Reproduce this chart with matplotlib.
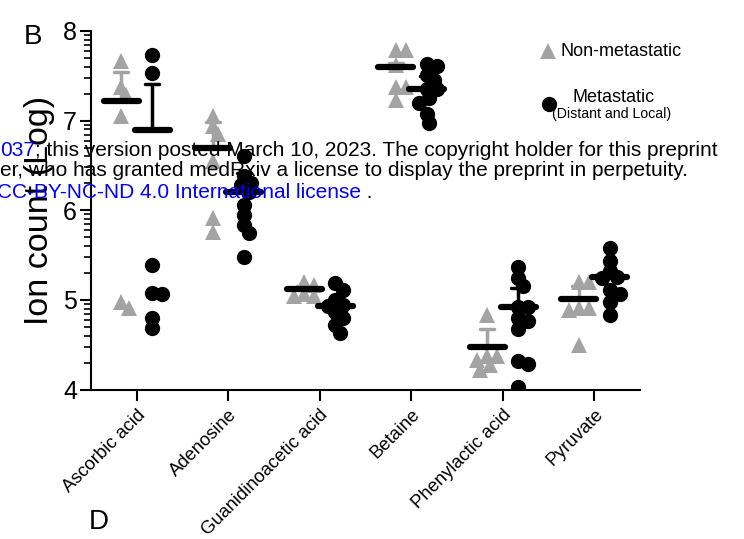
import numpy as np
import matplotlib
matplotlib.use("Agg")
import matplotlib.pyplot as plt
from matplotlib.lines import Line2D

plt.rcParams['font.family'] = ['Liberation Sans', 'DejaVu Sans']

categories = ["Ascorbic acid", "Adenosine", "Guanidinoacetic acid",
              "Betaine", "Phenylactic acid", "Pyruvate"]

nonmet_values = [
    [7.66, 7.38, 7.29, 7.05, 4.91, 4.98],
    [7.05, 6.94, 6.85, 6.55, 5.91, 5.76],
    [5.20, 5.17, 5.06, 5.04, 5.04],
    [7.79, 7.79, 7.62, 7.37, 7.37, 7.23],
    [4.83, 4.37, 4.37, 4.33, 4.22, 4.27],
    [5.20, 5.20, 4.91, 4.89, 4.91, 4.50],
]
met_values = [
    [7.73, 7.53, 5.39, 5.07, 5.08, 4.80, 4.69],
    [6.61, 6.38, 6.30, 6.28, 6.20, 6.06, 5.95, 5.84, 5.75, 5.48],
    [5.19, 5.11, 5.00, 4.94, 4.93, 4.87, 4.80, 4.72, 4.63],
    [7.63, 7.61, 7.51, 7.45, 7.35, 7.35, 7.25, 7.20, 7.07, 6.97],
    [5.37, 5.24, 5.15, 4.92, 4.92, 4.80, 4.76, 4.68, 4.32, 4.28, 4.03],
    [5.58, 5.43, 5.32, 5.26, 5.24, 5.11, 5.07, 4.98, 4.83],
]
nonmet_center = [7.22, 6.69, 5.12, 7.60, 4.47, 5.01]
nonmet_err_top = [7.54, 6.98, 5.15, 7.64, 4.68, 5.15]
met_center = [6.89, 6.20, 4.93, 7.35, 4.92, 5.26]
met_err_top = [7.41, 6.42, 4.96, 7.50, 5.13, 5.30]

GRAY = '#a3a3a3'
W, H, DPI = 744, 539, 100
fig = plt.figure(figsize=(W / DPI, H / DPI), dpi=DPI)
ax = fig.add_axes([91 / W, 1 - 389.5 / H, (640 - 91) / W, (389.5 - 31) / H])
ax.set_xlim(-0.5, 5.5)
ax.set_ylim(4, 8)

px_x = (640 - 91) / 6.0
px_y = (389.5 - 31) / 4.0


def swarm(vals, diam_px=9.0):
    placed = []
    xs = [0.0] * len(vals)
    order = np.argsort(vals)[::-1]
    for i in order:
        y = vals[i] * px_y
        k = 0
        while True:
            cands = [0.0] if k == 0 else [k * 2.5, -k * 2.5]
            ok = None
            for c in cands:
                if all((c - px) ** 2 + (y - py) ** 2 >= diam_px ** 2 for px, py in placed):
                    ok = c
                    break
            if ok is not None:
                placed.append((ok, y))
                xs[i] = ok / px_x
                break
            k += 1
    return xs


off = 0.17
hw = 0.19
MS = 11
for i, cat in enumerate(categories):
    # non-metastatic
    xc = i - off
    dx = swarm(nonmet_values[i])
    ax.plot([xc + d for d in dx], nonmet_values[i], linestyle='none', marker='^',
            color=GRAY, markersize=MS, markeredgewidth=0, zorder=3, clip_on=True)
    ax.plot([xc, xc], [nonmet_center[i], nonmet_err_top[i]], color=GRAY, lw=2.5,
            solid_capstyle='butt', zorder=4)
    ax.plot([xc - 0.075, xc + 0.075], [nonmet_err_top[i]] * 2, color=GRAY, lw=2.5,
            solid_capstyle='round', zorder=4)
    ax.plot([xc - hw, xc + hw], [nonmet_center[i]] * 2, color='black', lw=4.5,
            solid_capstyle='round', zorder=5)
    # metastatic
    xc = i + off
    dx = swarm(met_values[i])
    ax.plot([xc + d for d in dx], met_values[i], linestyle='none', marker='o',
            color='black', markersize=MS, markeredgewidth=0, zorder=3, clip_on=True)
    ax.plot([xc, xc], [met_center[i], met_err_top[i]], color='black', lw=2.5,
            solid_capstyle='butt', zorder=4)
    ax.plot([xc - 0.075, xc + 0.075], [met_err_top[i]] * 2, color='black', lw=2.5,
            solid_capstyle='round', zorder=4)
    ax.plot([xc - hw, xc + hw], [met_center[i]] * 2, color='black', lw=4.5,
            solid_capstyle='round', zorder=5)

for s in ['top', 'right']:
    ax.spines[s].set_visible(False)
for s in ['left', 'bottom']:
    ax.spines[s].set_linewidth(1.5)

ax.set_yticks([4, 5, 6, 7, 8])
ax.set_yticklabels(['4', '5', '6', '7', '8'], fontsize=18)
minor = [n + np.log10(k) for n in range(4, 8) for k in range(2, 10)]
ax.set_yticks(minor, minor=True)
ax.tick_params(axis='y', which='major', length=8, width=1.5, pad=2)
ax.tick_params(axis='y', which='minor', length=5, width=1.2)
ax.set_xticks(range(len(categories)))
ax.set_xticklabels(categories, rotation=45, ha='right', rotation_mode='anchor', fontsize=13.2)
ax.tick_params(axis='x', length=8, width=1.5, pad=4)
ax.set_ylabel('Ion count (Log)', fontsize=24.5, labelpad=6)

# legend
fig.add_artist(Line2D([548 / W], [1 - 51 / H], marker='^', color=GRAY, markersize=MS,
                      markeredgewidth=0, linestyle='none'))
fig.text(560 / W, 1 - 51 / H, 'Non-metastatic', fontsize=13, va='center', ha='left')
fig.add_artist(Line2D([549 / W], [1 - 104 / H], marker='o', color='black', markersize=MS,
                      markeredgewidth=0, linestyle='none'))
fig.text(614 / W, 1 - 97 / H, 'Metastatic', fontsize=13, va='center', ha='center')
fig.text(612 / W, 1 - 114 / H, '(Distant and Local)', fontsize=10.2, va='center', ha='center')

# panel letters
fig.text(24 / W, 1 - 37 / H, 'B', fontsize=20, va='center', ha='left')
fig.text(89 / W, 1 - 522 / H, 'D', fontsize=20, va='center', ha='left')

# overlay watermark text
fs = 15
y1, y2, y3 = 1 - 150 / H, 1 - 171 / H, 1 - 192 / H
t1 = fig.text(0, y1, '037', color='blue', fontsize=fs, va='center', ha='left', zorder=10)
t3 = fig.text(-3 / W, y3, 'CC-BY-NC-ND 4.0 International license', color='blue', fontsize=fs,
              va='center', ha='left', zorder=10)
fig.canvas.draw()
bb = t1.get_window_extent()
fig.text(bb.x1 / W, y1, '; this version posted March 10, 2023. The copyright holder for this preprint',
         color='black', fontsize=fs, va='center', ha='left', zorder=10)
fig.text(0, y2, 'er, who has granted medRxiv a license to display the preprint in perpetuity.',
         color='black', fontsize=fs, va='center', ha='left', zorder=10)
bb3 = t3.get_window_extent()
fig.text(bb3.x1 / W, y3, ' .', color='black', fontsize=fs, va='center', ha='left', zorder=10)

fig.savefig('out.png', dpi=DPI)
